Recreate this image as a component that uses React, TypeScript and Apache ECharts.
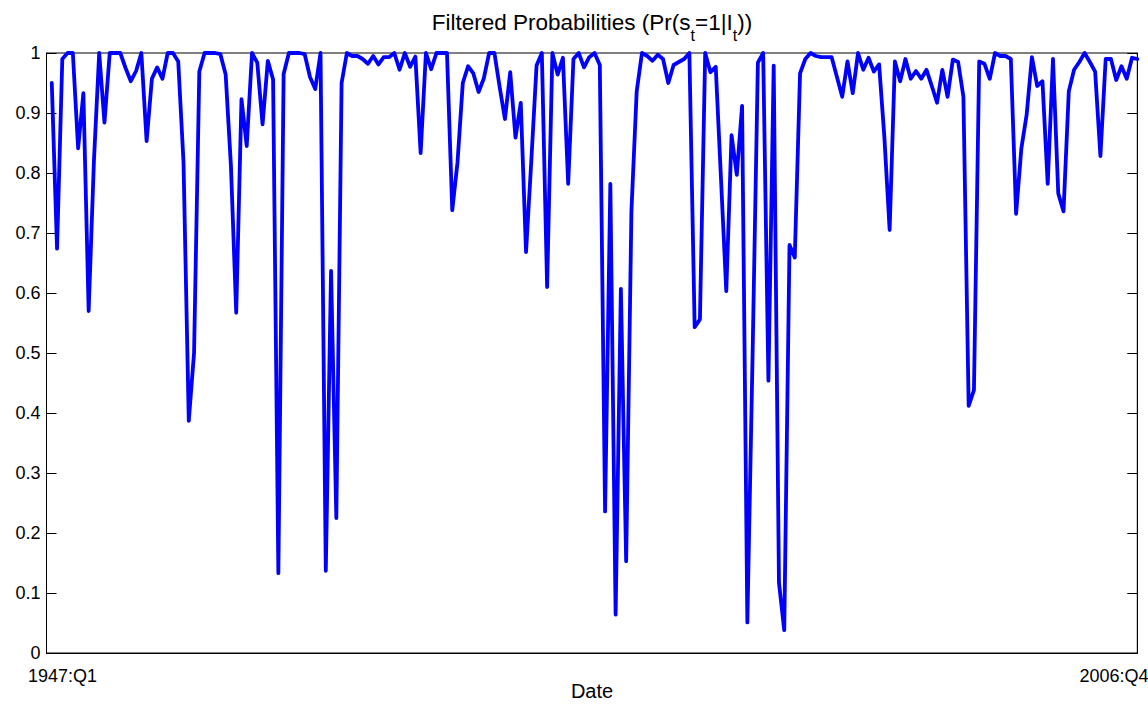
import React, { useEffect, useRef } from 'react';
import * as echarts from 'echarts';

const titleParts = ['Filtered Probabilities (Pr(s', 't', '=1|I', 't', '))'];
const xAxisTitle = 'Date';
const xTickLabels = ['1947:Q1', '2006:Q4'];
const yMin = 0;
const yMax = 1;
const yStep = 0.1;

// Filtered probability of state 1, one value per period
const probabilities = [
  0.95, 0.674, 0.99, 1.0, 1.0, 0.841, 0.933, 0.57, 0.82, 1.0,
  0.884, 1.0, 1.0, 1.0, 0.975, 0.953, 0.97, 1.0, 0.853, 0.957,
  0.976, 0.957, 1.0, 1.0, 0.986, 0.818, 0.387, 0.5, 0.969, 1.0,
  1.0, 1.0, 0.998, 0.964, 0.812, 0.567, 0.923, 0.845, 1.0, 0.984,
  0.881, 0.987, 0.956, 0.133, 0.965, 1.0, 1.0, 1.0, 0.998, 0.96,
  0.94, 1.0, 0.137, 0.637, 0.225, 0.95, 1.0, 0.995, 0.995, 0.99,
  0.982, 0.995, 0.981, 0.993, 0.993, 1.0, 0.972, 1.0, 0.977, 0.994,
  0.833, 1.0, 0.973, 1.0, 1.0, 1.0, 0.738, 0.818, 0.95, 0.978,
  0.966, 0.935, 0.958, 1.0, 1.0, 0.943, 0.89, 0.968, 0.859, 0.917,
  0.668, 0.82, 0.979, 1.0, 0.61, 1.0, 0.964, 0.992, 0.782, 0.99,
  1.0, 0.976, 0.993, 1.0, 0.98, 0.236, 0.782, 0.064, 0.607, 0.153,
  0.736, 0.936, 1.0, 0.995, 0.987, 0.997, 0.99, 0.95, 0.98, 0.985,
  0.99, 1.0, 0.543, 0.556, 1.0, 0.968, 0.977, 0.79, 0.603, 0.863,
  0.797, 0.912, 0.051, 0.5, 0.984, 1.0, 0.454, 0.979, 0.117, 0.038,
  0.68, 0.659, 0.966, 0.99, 1.0, 0.995, 0.993, 0.993, 0.993, 0.96,
  0.927, 0.986, 0.933, 1.0, 0.972, 0.992, 0.969, 0.981, 0.86, 0.705,
  0.986, 0.953, 0.99, 0.957, 0.97, 0.957, 0.972, 0.945, 0.917, 0.972,
  0.927, 0.989, 0.985, 0.927, 0.412, 0.438, 0.986, 0.982, 0.957, 1.0,
  0.995, 0.995, 0.99, 0.732, 0.841, 0.897, 0.993, 0.945, 0.953, 0.782,
  0.99, 0.766, 0.736, 0.936, 0.972, 0.985, 1.0, 0.985, 0.969, 0.828,
  0.99, 0.99, 0.955, 0.978, 0.957, 0.992, 0.99,
];

const FONT = "'Liberation Sans', Arial, Helvetica, sans-serif";

export default function App() {
  const ref = useRef<HTMLDivElement>(null);

  useEffect(() => {
    if (!ref.current) return;
    const chart = echarts.init(ref.current, null, { renderer: 'svg' });
    const data = probabilities.map((v, i) => [i + 1, v]);
    const xMax = probabilities.length;

    chart.setOption({
      animation: false,
      backgroundColor: '#ffffff',
      grid: {
        left: 46.5,
        right: 10.7,
        top: 53,
        bottom: 51,
        show: true,
        borderColor: '#000',
        borderWidth: 1,
        backgroundColor: '#fff',
      },
      xAxis: {
        type: 'value',
        min: 0,
        max: xMax,
        axisLine: { show: true, lineStyle: { color: '#000', width: 1 } },
        axisTick: { show: false },
        axisLabel: { show: false },
        splitLine: { show: false },
      },
      yAxis: [
        {
          type: 'value',
          min: yMin,
          max: yMax,
          interval: yStep,
          position: 'left',
          axisLine: { show: true, lineStyle: { color: '#000', width: 1 } },
          axisTick: { show: true, inside: true, length: 10, lineStyle: { color: '#000' } },
          axisLabel: { color: '#000', fontSize: 18, fontFamily: FONT, margin: 6 },
          splitLine: { show: false },
        },
        {
          type: 'value',
          min: yMin,
          max: yMax,
          interval: yStep,
          position: 'right',
          axisLine: { show: true, lineStyle: { color: '#000', width: 1 } },
          axisTick: { show: true, inside: true, length: 10, lineStyle: { color: '#000' } },
          axisLabel: { show: false },
          splitLine: { show: false },
        },
      ],
      series: [
        {
          type: 'line',
          data,
          yAxisIndex: 0,
          showSymbol: false,
          symbol: 'none',
          clip: true,
          lineStyle: { color: '#0000ff', width: 3.8, join: 'round', cap: 'round' },
        },
      ],
      graphic: [
        {
          type: 'text',
          x: 592,
          y: 24,
          style: {
            text:
              '{n|' + titleParts[0] + '}{s|' + titleParts[1] + '}{n|' + titleParts[2] + '}{s|' +
              titleParts[3] + '}{n|' + titleParts[4] + '}',
            align: 'center',
            verticalAlign: 'middle',
            textAlign: 'center',
            textVerticalAlign: 'middle',
            rich: {
              n: { fontSize: 22.5, fontFamily: FONT, fill: '#000', color: '#000', lineHeight: 26, verticalAlign: 'top' },
              s: { fontSize: 16, fontFamily: FONT, fill: '#000', color: '#000', lineHeight: 19, padding: [16, 0, 0, 0], verticalAlign: 'top' },
            },
          },
        },
        {
          type: 'text',
          x: 62.5,
          y: 676,
          style: {
            text: xTickLabels[0],
            font: '18px ' + FONT,
            fill: '#000',
            align: 'center',
            verticalAlign: 'middle',
            textAlign: 'center',
            textVerticalAlign: 'middle',
          },
        },
        {
          type: 'text',
          x: 1114,
          y: 676,
          style: {
            text: xTickLabels[1],
            font: '18px ' + FONT,
            fill: '#000',
            align: 'center',
            verticalAlign: 'middle',
            textAlign: 'center',
            textVerticalAlign: 'middle',
          },
        },
        {
          type: 'text',
          x: 592,
          y: 691,
          style: {
            text: xAxisTitle,
            font: '20px ' + FONT,
            fill: '#000',
            align: 'center',
            verticalAlign: 'middle',
            textAlign: 'center',
            textVerticalAlign: 'middle',
          },
        },
      ],
    });

    return () => chart.dispose();
  }, []);

  return (
    <div
      ref={ref}
      style={{ position: 'fixed', left: 0, top: 0, width: 1148, height: 704, background: '#fff' }}
    />
  );
}
